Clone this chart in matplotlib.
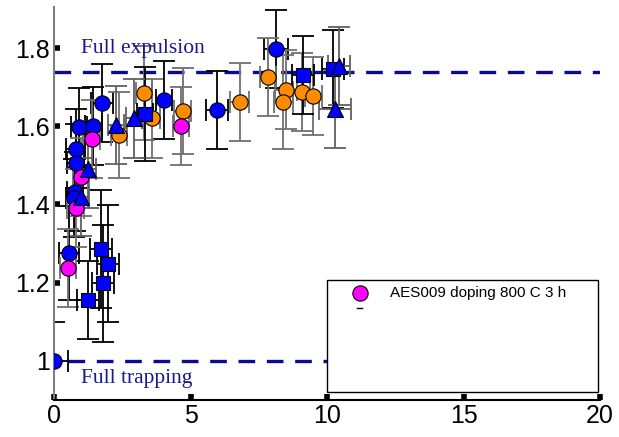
import matplotlib
matplotlib.use("Agg")
import matplotlib.pyplot as plt
from matplotlib.patches import Rectangle

# blue circles
bc_x = [8.13, 1.76, 4.03, 5.97, 0.92, 1.44, 0.79, 0.79, 0.77, 0.73, 0.55, 0.0]
bc_y = [1.797, 1.66, 1.668, 1.642, 1.597, 1.60, 1.543, 1.507, 1.433, 1.417, 1.275, 1.0]
bc_xe = [0.45, 0.4, 0.3, 0.4, 0.3, 0.3, 0.35, 0.3, 0.3, 0.3, 0.35, 0.5]
bc_ye = [0.1, 0.1, 0.1, 0.1, 0.1, 0.1, 0.1, 0.1, 0.1, 0.1, 0.12, 0.1]

# orange circles
oc_x = [3.29, 3.58, 2.38, 4.71, 6.81, 7.83, 8.5, 8.4, 9.07, 9.5]
oc_y = [1.686, 1.62, 1.577, 1.639, 1.662, 1.726, 1.694, 1.662, 1.688, 1.678]
oc_xe = [0.3, 0.3, 0.3, 0.3, 0.35, 0.3, 0.4, 0.35, 0.3, 0.3]
oc_ye = [0.12, 0.1, 0.11, 0.11, 0.1, 0.1, 0.1, 0.12, 0.1, 0.1]

# magenta circles (AES009 doping 800 C 3 h)
mc_x = [4.66, 1.38, 0.99, 0.79, 0.52]
mc_y = [1.60, 1.567, 1.471, 1.39, 1.237]
mc_xe = [0.3, 0.3, 0.3, 0.3, 0.3]
mc_ye = [0.1, 0.1, 0.1, 0.1, 0.1]

# blue squares
bs_x = [3.33, 9.13, 10.22, 1.71, 1.98, 1.78, 1.26]
bs_y = [1.632, 1.732, 1.747, 1.286, 1.249, 1.198, 1.155]
bs_xe = [0.3, 0.4, 0.4, 0.4, 0.4, 0.4, 0.4]
bs_ye = [0.12, 0.1, 0.1, 0.15, 0.15, 0.15, 0.1]

# blue triangles
bt_x = [2.27, 2.94, 1.23, 1.0, 10.44, 10.29]
bt_y = [1.604, 1.62, 1.492, 1.42, 1.754, 1.645]
bt_xe = [0.3, 0.3, 0.3, 0.3, 0.4, 0.6]
bt_ye = [0.1, 0.1, 0.1, 0.1, 0.1, 0.1]

x_ticks = [0, 5, 10, 15, 20]
y_ticks = [1.0, 1.2, 1.4, 1.6, 1.8]
y_ticklabels = ["1", "1.2", "1.4", "1.6", "1.8"]
expulsion_level = 1.74
trapping_level = 1.0

fig = plt.figure(figsize=(6.19, 4.37), dpi=100)
ax = fig.add_axes([54 / 619, 37 / 437, 546 / 619, 393 / 437])

navy = "#0a0a96"
ax.plot([0, 20], [expulsion_level] * 2, color=navy, lw=2.4, dashes=(5, 3.5), zorder=1)
ax.plot([0.5, 20], [trapping_level] * 2, color=navy, lw=2.4, dashes=(5, 3.5), zorder=1)

series = [
    (bc_x, bc_y, bc_xe, bc_ye, "o", "#0000ff", 11, "black"),
    (oc_x, oc_y, oc_xe, oc_ye, "o", "#ff8c00", 11, "#707070"),
    (mc_x, mc_y, mc_xe, mc_ye, "o", "#ff00ff", 11, "#707070"),
    (bs_x, bs_y, bs_xe, bs_ye, "s", "#0000ff", 9.5, "black"),
    (bt_x, bt_y, bt_xe, bt_ye, "^", "#0000ff", 12, "#606060"),
]

# error bars first so every marker sits on top
for x, y, xe, ye, m, c, ms, ec in series:
    ax.errorbar(x, y, xerr=xe, yerr=ye, fmt="none", ecolor=ec, elinewidth=1.3,
                capsize=8, capthick=1.3, zorder=2)
for x, y, xe, ye, m, c, ms, ec in series:
    ax.plot(x, y, linestyle="none", marker=m, ms=ms, mfc=c, mec="black", mew=0.8, zorder=3)

ax.text(1.0, 1.8, "Full expulsion", family="Liberation Serif", fontsize=15.5,
        color="#1a1a8c", va="center", ha="left")
ax.text(1.0, 0.954, "Full trapping", family="Liberation Serif", fontsize=15.5,
        color="#1a1a8c", va="center", ha="left")

# legend-like box
ax.add_patch(Rectangle((0.5, 0.02), 0.496, 0.285, transform=ax.transAxes,
                       facecolor="white", edgecolor="black", lw=1.0, zorder=4))
ax.plot([0.56], [0.272], transform=ax.transAxes, marker="o", ms=11, mfc="#ff00ff",
        mec="black", mew=0.8, zorder=5, clip_on=False)
ax.plot([0.555, 0.565], [0.234, 0.234], transform=ax.transAxes, color="black", lw=1,
        zorder=5)
ax.text(0.615, 0.272, "AES009 doping 800 C 3 h", transform=ax.transAxes,
        family="Liberation Sans", fontsize=11, va="center", ha="left", zorder=5)

ax.set_xlim(0, 20)
ax.set_ylim(0.9, 1.905)
ax.set_xticks(x_ticks)
ax.set_yticks(y_ticks)
ax.set_yticklabels(y_ticklabels)
for lab in ax.get_xticklabels() + ax.get_yticklabels():
    lab.set_family("Liberation Sans")
    lab.set_fontsize(18)
ax.tick_params(direction="in", length=4, width=4, color="black", pad=3)

ax.spines["top"].set_visible(False)
ax.spines["right"].set_visible(False)
ax.spines["left"].set_color("#808080")
ax.spines["left"].set_linewidth(1.5)
ax.spines["bottom"].set_color("black")
ax.spines["bottom"].set_linewidth(1.5)

fig.savefig("out.png", dpi=100, facecolor="white")
